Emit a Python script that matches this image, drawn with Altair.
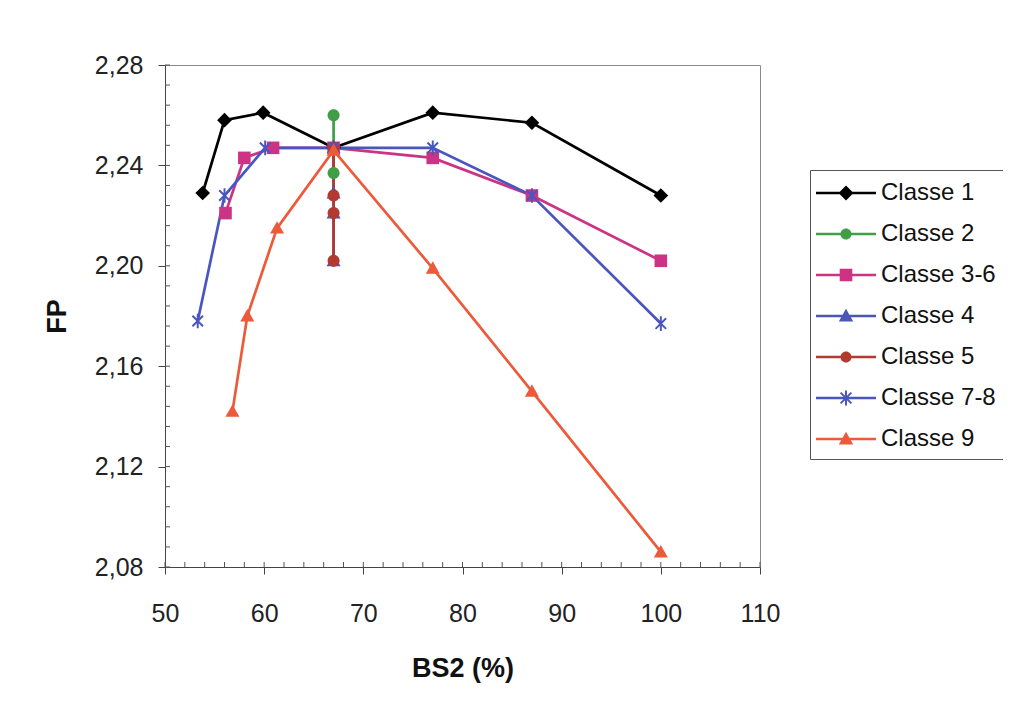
import altair as alt
import pandas as pd

# ---------------- data ----------------
series = ["Classe 1", "Classe 2", "Classe 3-6", "Classe 4", "Classe 5", "Classe 7-8", "Classe 9"]
colors = ["#000000", "#3f9e46", "#cc3385", "#4a56b8", "#b23a30", "#4a56c0", "#ec5a3a"]

c1_x = [53.8, 56.0, 59.9, 67.0, 77.0, 87.0, 100.0]
c1_y = [2.229, 2.258, 2.261, 2.247, 2.261, 2.257, 2.228]
c2_x = [67.0, 67.0, 67.0]
c2_y = [2.260, 2.247, 2.237]
c36_x = [56.1, 58.0, 60.9, 67.0, 77.0, 87.0, 100.0]
c36_y = [2.221, 2.243, 2.247, 2.247, 2.243, 2.228, 2.202]
c4_x = [67.0, 67.0, 67.0, 67.0]
c4_y = [2.247, 2.229, 2.221, 2.202]
c5_x = [67.0, 67.0, 67.0, 67.0]
c5_y = [2.247, 2.228, 2.221, 2.202]
c78_x = [53.3, 56.0, 60.1, 67.0, 77.0, 87.0, 100.0]
c78_y = [2.178, 2.228, 2.247, 2.247, 2.247, 2.228, 2.177]
c9_x = [56.8, 58.3, 61.3, 67.0, 77.0, 87.0, 100.0]
c9_y = [2.142, 2.180, 2.215, 2.246, 2.199, 2.150, 2.086]

x_ticks = [50, 60, 70, 80, 90, 100, 110]
y_ticks = [2.08, 2.12, 2.16, 2.20, 2.24, 2.28]

xs_all = [c1_x, c2_x, c36_x, c4_x, c5_x, c78_x, c9_x]
ys_all = [c1_y, c2_y, c36_y, c4_y, c5_y, c78_y, c9_y]

rows = []
for name, xs, ys in zip(series, xs_all, ys_all):
    for i, (xv, yv) in enumerate(zip(xs, ys)):
        rows.append({"series": name, "BS2": xv, "FP": yv, "idx": i})
df = pd.DataFrame(rows)

x_minor = pd.DataFrame({"BS2": list(range(50, 111, 2))})
y_minor = pd.DataFrame({"FP": [round(2.08 + 0.008 * i, 3) for i in range(26)]})

# ---------------- symbol paths ----------------
def f(v):
    return f"{v:.3f}"

def bar(x0, y0, x1, y1, t):
    dx, dy = x1 - x0, y1 - y0
    ln = (dx * dx + dy * dy) ** 0.5
    nx, ny = -dy / ln * t, dx / ln * t
    pts = [(x0 - nx, y0 - ny), (x1 - nx, y1 - ny), (x1 + nx, y1 + ny), (x0 + nx, y0 + ny)]
    return "M" + " L".join(f"{f(a)},{f(b)}" for a, b in pts) + " Z"

def asterisk(cx, h, t):
    d = h * 0.72
    return (bar(cx, -h, cx, h, t) + " " + bar(cx - d, -d, cx + d, d, t) + " "
            + bar(cx + d, -d, cx - d, d, t))

def diamond(cx, h):
    return f"M{f(cx)},{f(-h)} L{f(cx + h)},0 L{f(cx)},{f(h)} L{f(cx - h)},0 Z"

def square(cx, h):
    return f"M{f(cx - h)},{f(-h)} L{f(cx + h)},{f(-h)} L{f(cx + h)},{f(h)} L{f(cx - h)},{f(h)} Z"

def circle(cx, r):
    return (f"M{f(cx + r)},0 A{f(r)},{f(r)} 0 1,1 {f(cx - r)},0 "
            f"A{f(r)},{f(r)} 0 1,1 {f(cx + r)},0 Z")

def triangle(cx, a):
    b = a * 0.78
    return f"M{f(cx)},{f(-a)} L{f(cx + a)},{f(b)} L{f(cx - a)},{f(b)} Z"

# plot markers: unit path scaled by mark size 196 -> 1 unit = 7 px
plot_shapes = [
    diamond(0, 1.05),
    circle(0, 0.86),
    square(0, 0.9),
    triangle(0, 1.0),
    circle(0, 0.86),
    asterisk(0, 1.05, 0.14),
    triangle(0, 1.0),
]

lx0, lx1, mc = -1.133, 2.867, 0.867
line_path = bar(lx0, 0, lx1, 0, 0.09)
legend_shapes = [
    line_path + " " + diamond(mc, 0.5),
    line_path + " " + circle(mc, 0.37),
    line_path + " " + square(mc, 0.42),
    line_path + " " + triangle(mc, 0.48),
    line_path + " " + circle(mc, 0.37),
    line_path + " " + asterisk(mc, 0.5, 0.065),
    line_path + " " + triangle(mc, 0.48),
]

# ---------------- chart ----------------
W, H = 595, 502
xscale = alt.Scale(domain=[50, 110], nice=False, zero=False)
yscale = alt.Scale(domain=[2.08, 2.28], nice=False, zero=False)
FONT = "Liberation Sans"

x_axis = alt.Axis(values=x_ticks, title="BS2 (%)", grid=False, tickSize=7,
                  labelPadding=27, labelFontSize=25, labelFont=FONT,
                  titleFont=FONT, titleFontSize=27, titleFontWeight="bold",
                  titleY=101, titleBaseline="middle", labelFlush=False)
y_axis = alt.Axis(values=y_ticks, title="FP", grid=False, tickSize=7,
                  labelPadding=15, labelFontSize=25, labelFont=FONT,
                  labelExpr="replace(format(datum.value, '.2f'), '.', ',')",
                  titleFont=FONT, titleFontSize=27, titleFontWeight="bold",
                  titleX=-108, titleY=H / 2, titleBaseline="middle",
                  labelFlush=False)

x_enc = alt.X("BS2:Q", scale=xscale, axis=x_axis)
y_enc = alt.Y("FP:Q", scale=yscale, axis=y_axis)

color_plain = alt.Color("series:N", scale=alt.Scale(domain=series, range=colors), legend=None)

lines = alt.Chart(df).mark_line(strokeWidth=2.7).encode(
    x=x_enc, y=y_enc, color=color_plain, order=alt.Order("idx:Q"))

points = alt.Chart(df).mark_point(filled=True, opacity=1, strokeWidth=0, size=196).encode(
    x=x_enc, y=y_enc, color=color_plain,
    shape=alt.Shape("series:N", scale=alt.Scale(domain=series, range=plot_shapes), legend=None))

leg = alt.Legend(title=None, orient="none", legendX=645, legendY=105,
                 symbolSize=900, symbolStrokeWidth=0, symbolOpacity=1,
                 labelFont=FONT, labelFontSize=24, labelColor="#111", labelOffset=33,
                 rowPadding=14, padding=8, strokeColor="#555", fillColor="white",
                 labelLimit=300)

legend_layer = alt.Chart(df).transform_filter("false").mark_point(filled=True, opacity=1).encode(
    x=x_enc, y=y_enc,
    color=alt.Color("series:N", scale=alt.Scale(domain=series, range=colors), legend=leg),
    shape=alt.Shape("series:N", scale=alt.Scale(domain=series, range=legend_shapes), legend=leg))

x_inner = alt.Chart(x_minor).mark_rule(color="#555", strokeWidth=1).encode(
    x=x_enc, y=alt.value(H - 5), y2=alt.value(H))
y_inner = alt.Chart(y_minor).mark_rule(color="#555", strokeWidth=1).encode(
    y=y_enc, x=alt.value(0), x2=alt.value(5))

chart = alt.layer(x_inner, y_inner, lines, points, legend_layer).resolve_scale(
    color="independent", shape="independent"
).properties(
    width=W, height=H,
    autosize=alt.AutoSizeParams(type="none"),
    padding={"left": 157, "top": 57, "right": 243, "bottom": 125},
    background="white",
).configure_view(
    stroke="#8a8a8a", strokeWidth=1
).configure_axis(
    domainColor="#444", tickColor="#444", labelColor="#222", titleColor="#111"
)

chart.save("out.html", embed_options={"renderer": "svg", "actions": False})
